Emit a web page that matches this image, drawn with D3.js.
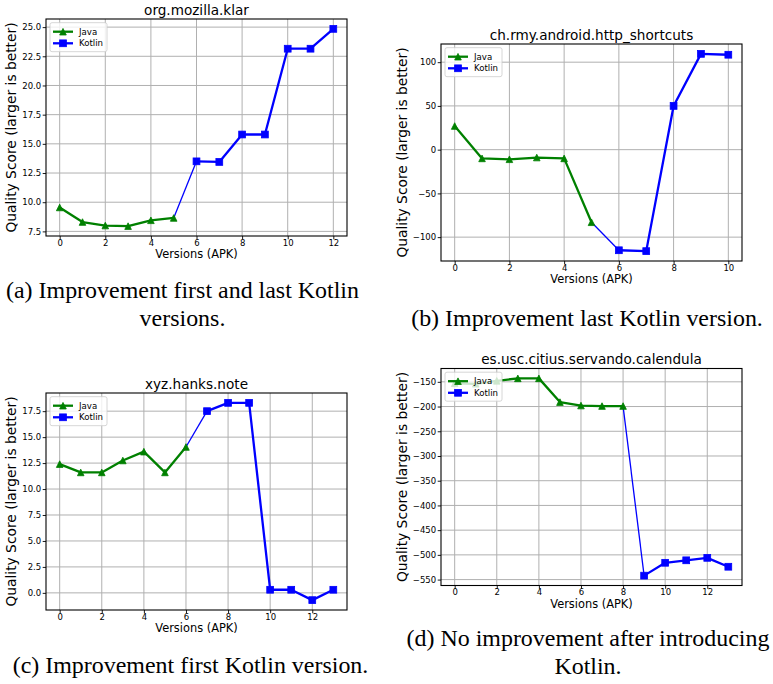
<!DOCTYPE html>
<html>
<head>
<meta charset="utf-8">
<script src="https://cdn.jsdelivr.net/npm/d3@7"></script>
<style>
  body { margin: 0; background: #fff; }
  svg { display: block; }
</style>
</head>
<body>
<svg id="chart" width="773" height="684"></svg>
<script>
// values, one Java run followed by one Kotlin run per app
const titles = ['org.mozilla.klar', 'ch.rmy.android.http_shortcuts', 'xyz.hanks.note', 'es.usc.citius.servando.calendula'];

const klarJava = [9.55, 8.3, 8.0, 7.95, 8.45, 8.65];
const klarKotlin = [13.5, 13.45, 15.8, 15.8, 23.15, 23.15, 24.85];

const shortcutsJava = [27, -10, -11, -9, -10, -83];
const shortcutsKotlin = [-115, -116, 50, 109.5, 108.5];

const hanksJava = [12.4, 11.6, 11.6, 12.75, 13.6, 11.6, 14.05];
const hanksKotlin = [17.5, 18.3, 18.3, 0.3, 0.3, -0.7, 0.3];

const calendulaJava = [-153, -154, -148, -143, -143, -191, -198, -199, -199];
const calendulaKotlin = [-542, -516, -511, -506, -524];

const javaSeries = [klarJava, shortcutsJava, hanksJava, calendulaJava];
const kotlinSeries = [klarKotlin, shortcutsKotlin, hanksKotlin, calendulaKotlin];

const yTicks = [
    [7.5, 10, 12.5, 15, 17.5, 20, 22.5, 25],
    [-100, -50, 0, 50, 100],
    [0, 2.5, 5, 7.5, 10, 12.5, 15, 17.5],
    [-550, -500, -450, -400, -350, -300, -250, -200, -150]
];
const yFormats = ['.1f', 'd', '.1f', 'd'];
const xTicks = [
    [0, 2, 4, 6, 8, 10, 12],
    [0, 2, 4, 6, 8, 10],
    [0, 2, 4, 6, 8, 10, 12],
    [0, 2, 4, 6, 8, 10, 12]
];
const legendLabels = ['Java', 'Kotlin'];
const captions = [
    ['(a) Improvement first and last Kotlin', 'versions.'],
    ['(b) Improvement last Kotlin version.'],
    ['(c) Improvement first Kotlin version.'],
    ['(d) No improvement after introducing', 'Kotlin.']
];

// layout
const W = 301, H = 217;
const panels = [
    {x: 46, y: 19, cx: 182.5, caps: [298, 326]},
    {x: 441, y: 44, cx: 587, caps: [326]},
    {x: 46, y: 393, cx: 190.5, caps: [673]},
    {x: 441, y: 368.5, cx: 588, caps: [646, 674]}
];
const green = '#008000', blue = '#0000ff';
const sans = 'DejaVu Sans';

const svg = d3.select('#chart');

function triangle(s) {
    return `M0,${-s / 2}L${s / 2},${s / 2}L${-s / 2},${s / 2}Z`;
}

function drawMarkers(g, pts, kind, color) {
    if (kind === 'tri') {
        g.selectAll(null).data(pts).join('path')
            .attr('d', triangle(6.6))
            .attr('transform', d => `translate(${d[0]},${d[1]})`)
            .attr('fill', color).attr('stroke', color).attr('stroke-width', 0.8);
    } else {
        g.selectAll(null).data(pts).join('rect')
            .attr('x', d => d[0] - 3.4).attr('y', d => d[1] - 3.4)
            .attr('width', 6.8).attr('height', 6.8)
            .attr('fill', color).attr('stroke', color).attr('stroke-width', 0.8);
    }
}

panels.forEach((p, i) => {
    const java = javaSeries[i], kotlin = kotlinSeries[i];
    const javaPts = java.map((v, k) => [k, v]);
    const kotlinPts = kotlin.map((v, k) => [k + java.length, v]);
    const all = javaPts.concat(kotlinPts);

    const xExt = d3.extent(all, d => d[0]);
    const yExt = d3.extent(all, d => d[1]);
    const xPad = (xExt[1] - xExt[0]) * 0.05;
    const yPad = (yExt[1] - yExt[0]) * 0.05;

    const x = d3.scaleLinear().domain([xExt[0] - xPad, xExt[1] + xPad]).range([0, W]);
    const y = d3.scaleLinear().domain([yExt[0] - yPad, yExt[1] + yPad]).range([H, 0]);

    const g = svg.append('g').attr('transform', `translate(${p.x},${p.y})`);

    // grid
    g.append('g').selectAll('line').data(xTicks[i]).join('line')
        .attr('x1', d => x(d)).attr('x2', d => x(d))
        .attr('y1', 0).attr('y2', H)
        .attr('stroke', '#b0b0b0').attr('stroke-width', 1);
    g.append('g').selectAll('line').data(yTicks[i]).join('line')
        .attr('x1', 0).attr('x2', W)
        .attr('y1', d => y(d)).attr('y2', d => y(d))
        .attr('stroke', '#b0b0b0').attr('stroke-width', 1);

    // axes
    const xAxis = g.append('g').attr('transform', `translate(0,${H})`)
        .call(d3.axisBottom(x).tickValues(xTicks[i]).tickSize(3.3).tickPadding(0.3).tickFormat(d3.format('d')));
    const yAxis = g.append('g')
        .call(d3.axisLeft(y).tickValues(yTicks[i]).tickSize(3.3).tickPadding(1.5).tickFormat(d3.format(yFormats[i])));
    [xAxis, yAxis].forEach(a => {
        a.select('.domain').remove();
        a.selectAll('.tick line').attr('stroke', '#000').attr('stroke-width', 0.9);
        a.selectAll('.tick text').attr('font-family', sans).attr('font-size', 8.5).attr('fill', '#000');
    });

    // lines
    const line = d3.line().x(d => x(d[0])).y(d => y(d[1]));
    const clipId = 'clip' + i;
    g.append('clipPath').attr('id', clipId).append('rect').attr('width', W).attr('height', H);
    const plot = g.append('g').attr('clip-path', `url(#${clipId})`);

    plot.append('path').datum([javaPts[javaPts.length - 1], kotlinPts[0]])
        .attr('d', line).attr('fill', 'none').attr('stroke', blue).attr('stroke-width', 1.3);
    plot.append('path').datum(javaPts)
        .attr('d', line).attr('fill', 'none').attr('stroke', green).attr('stroke-width', 2.3)
        .attr('stroke-linejoin', 'round');
    plot.append('path').datum(kotlinPts)
        .attr('d', line).attr('fill', 'none').attr('stroke', blue).attr('stroke-width', 2.3)
        .attr('stroke-linejoin', 'round');
    drawMarkers(plot, javaPts.map(d => [x(d[0]), y(d[1])]), 'tri', green);
    drawMarkers(plot, kotlinPts.map(d => [x(d[0]), y(d[1])]), 'sq', blue);

    // frame
    g.append('rect').attr('width', W).attr('height', H)
        .attr('fill', 'none').attr('stroke', '#000').attr('stroke-width', 1.1);

    // legend
    const lg = g.append('g').attr('transform', 'translate(4,3.7)');
    lg.append('rect').attr('width', 57).attr('height', 29).attr('rx', 2)
        .attr('fill', '#fff').attr('fill-opacity', 0.8)
        .attr('stroke', '#cccccc').attr('stroke-width', 0.8);
    legendLabels.forEach((lab, k) => {
        const ly = 9 + k * 11.6;
        const color = k === 0 ? green : blue;
        lg.append('line').attr('x1', 3).attr('x2', 23).attr('y1', ly).attr('y2', ly)
            .attr('stroke', color).attr('stroke-width', 2.3);
        drawMarkers(lg, [[13, ly]], k === 0 ? 'tri' : 'sq', color);
        lg.append('text').attr('x', 29).attr('y', ly + 3)
            .attr('font-family', sans).attr('font-size', 8.6).attr('fill', '#000')
            .text(lab);
    });

    // title
    g.append('text').attr('x', W / 2).attr('y', -4.5)
        .attr('text-anchor', 'middle').attr('font-family', sans).attr('font-size', 13.6)
        .text(titles[i]);

    // axis labels
    g.append('text').attr('x', W / 2).attr('y', H + 22.3)
        .attr('text-anchor', 'middle').attr('font-family', sans).attr('font-size', 11.4)
        .text('Versions (APK)');
    const lx = yAxis.node().getBBox().x - 6;
    g.append('text').attr('transform', `translate(${lx},${H / 2}) rotate(-90)`)
        .attr('text-anchor', 'middle').attr('font-family', sans).attr('font-size', 13.8)
        .text('Quality Score (larger is better)');
});

// captions, sized so the single-line ones span about their measured width
const probe = svg.append('text').attr('font-family', 'Liberation Serif').attr('font-size', 20)
    .text(captions[1][0]);
const capSize = 20 * 352 / probe.node().getComputedTextLength();
probe.remove();

panels.forEach((p, i) => {
    captions[i].forEach((txt, k) => {
        svg.append('text').attr('x', p.cx).attr('y', p.caps[k])
            .attr('text-anchor', 'middle')
            .attr('font-family', 'Liberation Serif').attr('font-size', capSize)
            .attr('fill', '#000')
            .text(txt);
    });
});
</script>
</body>
</html>
